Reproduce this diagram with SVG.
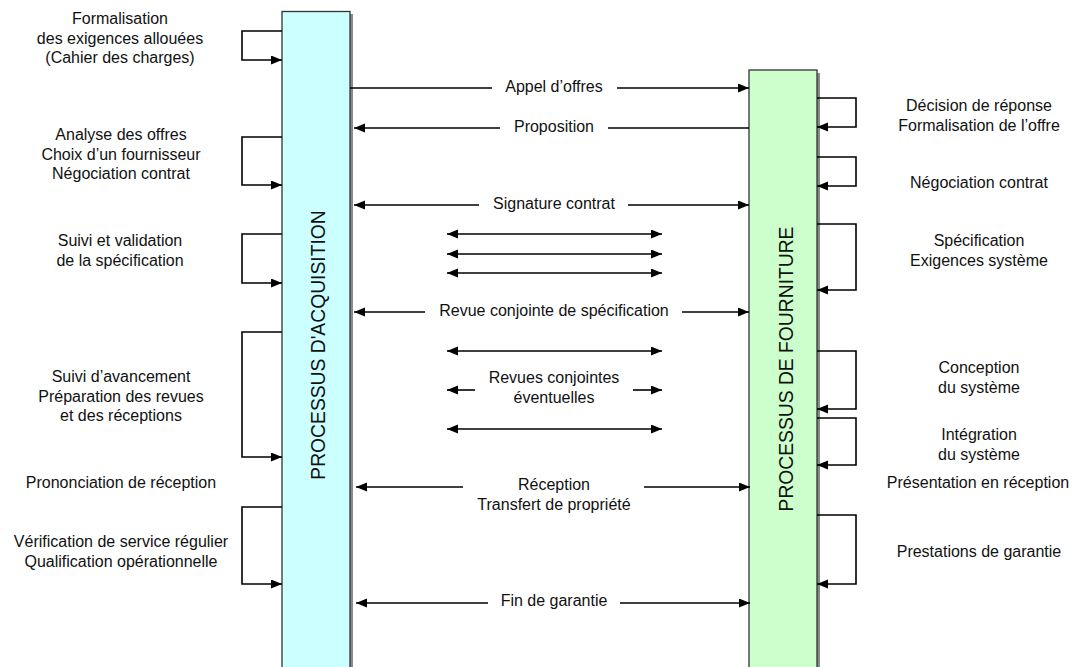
<svg xmlns="http://www.w3.org/2000/svg" width="1074" height="667" viewBox="0 0 1074 667">
<style>
  text { font-family: "Liberation Sans", Arial, sans-serif; font-size: 16px; fill: #111; text-anchor: middle; }
  .vlabel { font-size: 19.3px; }
  .ln { fill: none; stroke: #000; stroke-width: 1.6; }
  .proc { stroke: #333; stroke-width: 1.3; }
  .shadow { fill: #8a8a8a; }
</style>
<defs>
  <marker id="ah" markerUnits="userSpaceOnUse" markerWidth="12" markerHeight="10" refX="11" refY="4.5" orient="auto-start-reverse">
    <path d="M0,0 L11,4.5 L0,9 z" fill="#000"/>
  </marker>
</defs>
<rect width="1074" height="667" fill="#fff"/>

<g id="acquisition">
  <rect class="shadow" x="350" y="14" width="3" height="660"/>
  <rect class="proc" x="282" y="11.5" width="68" height="670" fill="#ccffff"/>
  <text class="vlabel" transform="translate(325,345) rotate(-90)">PROCESSUS D'ACQUISITION</text>
</g>

<g id="fourniture">
  <rect class="shadow" x="817" y="73" width="3" height="600"/>
  <rect class="proc" x="749" y="70" width="68" height="610" fill="#ccffcc"/>
  <text class="vlabel" transform="translate(793,369) rotate(-90)">PROCESSUS DE FOURNITURE</text>
</g>

<g id="connectors">
  <!-- left loops -->
  <path class="ln" d="M282,31 H242 V60 H282" marker-end="url(#ah)"/>
  <path class="ln" d="M282,137 H242 V185 H282" marker-end="url(#ah)"/>
  <path class="ln" d="M282,234 H242 V283 H282" marker-end="url(#ah)"/>
  <path class="ln" d="M282,332 H242 V457 H282" marker-end="url(#ah)"/>
  <path class="ln" d="M282,507 H242 V584 H282" marker-end="url(#ah)"/>
  <!-- right loops -->
  <path class="ln" d="M817,98 H856 V127 H817" marker-end="url(#ah)"/>
  <path class="ln" d="M817,157 H856 V186 H817" marker-end="url(#ah)"/>
  <path class="ln" d="M817,224 H856 V290 H817" marker-end="url(#ah)"/>
  <path class="ln" d="M817,351 H856 V409 H817" marker-end="url(#ah)"/>
  <path class="ln" d="M817,418 H856 V465 H817" marker-end="url(#ah)"/>
  <path class="ln" d="M817,515 H856 V584 H817" marker-end="url(#ah)"/>
  <!-- Appel d'offres -->
  <path class="ln" d="M350,88 H492"/>
  <path class="ln" d="M617,88 H749" marker-end="url(#ah)"/>
  <!-- Proposition -->
  <path class="ln" d="M500,128 H354" marker-end="url(#ah)"/>
  <path class="ln" d="M608,128 H749"/>
  <!-- Signature contrat -->
  <path class="ln" d="M479,205 H354" marker-end="url(#ah)"/>
  <path class="ln" d="M628,205 H749" marker-end="url(#ah)"/>
  <!-- short double arrows -->
  <path class="ln" d="M447,234 H662" marker-start="url(#ah)" marker-end="url(#ah)"/>
  <path class="ln" d="M447,254 H662" marker-start="url(#ah)" marker-end="url(#ah)"/>
  <path class="ln" d="M447,273 H662" marker-start="url(#ah)" marker-end="url(#ah)"/>
  <!-- Revue conjointe de spécification -->
  <path class="ln" d="M425,312 H354" marker-end="url(#ah)"/>
  <path class="ln" d="M682,312 H749" marker-end="url(#ah)"/>
  <path class="ln" d="M447,351 H662" marker-start="url(#ah)" marker-end="url(#ah)"/>
  <!-- Revues conjointes éventuelles -->
  <path class="ln" d="M475,390 H447" marker-end="url(#ah)"/>
  <path class="ln" d="M633,390 H662" marker-end="url(#ah)"/>
  <path class="ln" d="M447,429 H662" marker-start="url(#ah)" marker-end="url(#ah)"/>
  <!-- Réception -->
  <path class="ln" d="M463,487 H356" marker-end="url(#ah)"/>
  <path class="ln" d="M644,487 H750" marker-end="url(#ah)"/>
  <!-- Fin de garantie -->
  <path class="ln" d="M488,603 H356" marker-end="url(#ah)"/>
  <path class="ln" d="M620,603 H750" marker-end="url(#ah)"/>
</g>

<g id="left-labels">
  <text x="120" y="24">Formalisation</text>
  <text x="120" y="43.5">des exigences allouées</text>
  <text x="120" y="63">(Cahier des charges)</text>
  <text x="121" y="140">Analyse des offres</text>
  <text x="121" y="159.5">Choix d’un fournisseur</text>
  <text x="121" y="179">Négociation contrat</text>
  <text x="120" y="246">Suivi et validation</text>
  <text x="120" y="265.5">de la spécification</text>
  <text x="121" y="382">Suivi d’avancement</text>
  <text x="121" y="401.5">Préparation des revues</text>
  <text x="121" y="421">et des réceptions</text>
  <text x="121" y="488">Prononciation de réception</text>
  <text x="121" y="547">Vérification de service régulier</text>
  <text x="121" y="566.5">Qualification opérationnelle</text>
</g>

<g id="right-labels">
  <text x="979" y="111">Décision de réponse</text>
  <text x="979" y="130.5">Formalisation de l’offre</text>
  <text x="979" y="188">Négociation contrat</text>
  <text x="979" y="246">Spécification</text>
  <text x="979" y="265.5">Exigences système</text>
  <text x="979" y="373">Conception</text>
  <text x="979" y="392.5">du système</text>
  <text x="979" y="440">Intégration</text>
  <text x="979" y="459.5">du système</text>
  <text x="978" y="488">Présentation en réception</text>
  <text x="979" y="557">Prestations de garantie</text>
</g>

<g id="middle-labels">
  <text x="554" y="92">Appel d’offres</text>
  <text x="554" y="131.5">Proposition</text>
  <text x="554" y="209">Signature contrat</text>
  <text x="554" y="315.5">Revue conjointe de spécification</text>
  <text x="554" y="383">Revues conjointes</text>
  <text x="554" y="402.5">éventuelles</text>
  <text x="554" y="490">Réception</text>
  <text x="554" y="509.5">Transfert de propriété</text>
  <text x="554" y="605.5">Fin de garantie</text>
</g>
</svg>
